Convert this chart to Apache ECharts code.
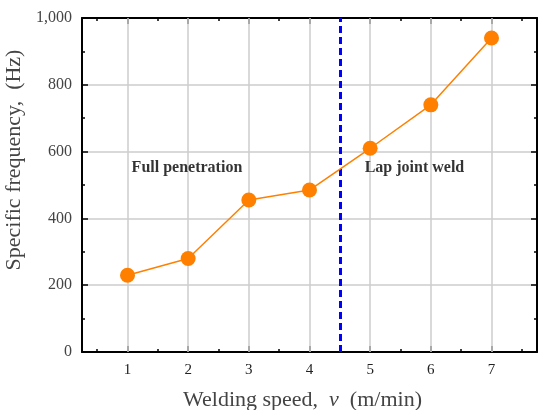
<!DOCTYPE html>
<html><head><meta charset="utf-8">
<script src="https://cdn.jsdelivr.net/npm/echarts@6/dist/echarts.min.js"></script>
<style>html,body{margin:0;padding:0;background:#fff}#c{width:539px;height:410px}</style>
</head><body><div id="c"></div>
<script>
const speeds = [1, 2, 3, 4, 5, 6, 7];
const frequencies = [230, 280, 455, 485, 610, 740, 940];
const xMajorTicks = [1, 2, 3, 4, 5, 6, 7];
const xMinorTicks = [0.5, 1.5, 2.5, 3.5, 4.5, 5.5, 6.5, 7.5];
const boundarySpeed = 4.5;
const annotationNames = ['Full penetration', 'Lap joint weld'];
const annotationX = [1.98, 5.73];
const annotationY = [551, 551];

const FONT = 'Liberation Serif';
const xMin = 0.25, xMax = 7.75;
const chart = echarts.init(document.getElementById('c'), null, {renderer: 'canvas'});

function xAx(pos, ticks, len, showLine, extra) {
  return Object.assign({
    type: 'value', position: pos, min: xMin, max: xMax,
    axisLine: {show: showLine, onZero: false, lineStyle: {color: '#000', width: 2}},
    axisTick: {show: true, inside: true, length: len, customValues: ticks, lineStyle: {color: '#000', width: 1.5}},
    axisLabel: {show: false},
    splitLine: {show: false}
  }, extra || {});
}

const option = {
  animation: false,
  backgroundColor: '#fff',
  grid: {left: 82, right: 2, top: 18, bottom: 58, containLabel: false, outerBoundsMode: 'none'},
  xAxis: [
    xAx('bottom', xMajorTicks, 6, true, {
      axisLabel: {show: true, customValues: xMajorTicks, fontFamily: FONT, fontSize: 15, color: '#222', margin: 11},
      name: '{n|Welding speed,  }{v|v}{n|  (m/min)}',
      nameLocation: 'middle', nameGap: 37,
      nameTextStyle: {padding: [0, 14, 0, 0], rich: {
        n: {fontFamily: FONT, fontSize: 22, color: '#444'},
        v: {fontFamily: FONT, fontSize: 22, color: '#444', fontStyle: 'italic'}
      }}
    }),
    xAx('bottom', xMinorTicks, 3, false),
    xAx('top', xMajorTicks, 6, true),
    xAx('top', xMinorTicks, 3, false)
  ],
  yAxis: [
    {
      type: 'value', position: 'left', min: 0, max: 1000, interval: 200,
      axisLine: {show: true, lineStyle: {color: '#000', width: 2}},
      axisTick: {show: true, inside: true, length: 6, lineStyle: {color: '#000', width: 1.5}},
      minorTick: {show: true, splitNumber: 2, length: 3, lineStyle: {color: '#000', width: 1.5}},
      axisLabel: {fontFamily: FONT, fontSize: 16, color: '#444', margin: 10,
        formatter: v => v.toLocaleString('en-US')},
      splitLine: {show: true, lineStyle: {color: '#cccccc', width: 1.5}},
      name: 'Specific frequency,  (Hz)', nameLocation: 'middle', nameGap: 44,
      nameTextStyle: {fontFamily: FONT, fontSize: 22, color: '#444', padding: [0, 0, 0, 50]}
    },
    {
      type: 'value', position: 'right', min: 0, max: 1000, interval: 200,
      axisLine: {show: true, lineStyle: {color: '#000', width: 2}},
      axisTick: {show: true, inside: true, length: 6, lineStyle: {color: '#000', width: 1.5}},
      minorTick: {show: true, splitNumber: 2, length: 3, lineStyle: {color: '#000', width: 1.5}},
      axisLabel: {show: false},
      splitLine: {show: false}
    }
  ],
  series: [
    {
      type: 'line', xAxisIndex: 0, yAxisIndex: 0, data: [], z: 1, silent: true,
      markLine: {
        silent: true, symbol: 'none', animation: false, label: {show: false},
        lineStyle: {color: '#cccccc', width: 1.5, type: 'solid'},
        data: xMajorTicks.map(t => ({xAxis: t}))
      }
    },
    {
      type: 'line', xAxisIndex: 0, yAxisIndex: 0, data: [], z: 3, silent: true,
      markLine: {
        silent: true, symbol: 'none', animation: false, label: {show: false},
        lineStyle: {color: '#0000ff', width: 3, type: [7, 4]},
        data: [{xAxis: boundarySpeed}]
      }
    },
    {
      type: 'line', xAxisIndex: 0, yAxisIndex: 0, z: 5,
      data: speeds.map((s, i) => [s, frequencies[i]]),
      symbol: 'circle', symbolSize: 15,
      itemStyle: {color: '#ff8000'},
      lineStyle: {color: '#ff8000', width: 1.5}
    },
    {
      type: 'scatter', xAxisIndex: 0, yAxisIndex: 0, z: 6, symbolSize: 1,
      itemStyle: {color: 'rgba(0,0,0,0)'},
      data: annotationNames.map((n, i) => ({name: n, value: [annotationX[i], annotationY[i]]})),
      label: {show: true, position: 'inside', formatter: '{b}', fontFamily: FONT,
        fontWeight: 'bold', fontSize: 16, color: '#000'}
    }
  ]
};
chart.setOption(option);
</script></body></html>
